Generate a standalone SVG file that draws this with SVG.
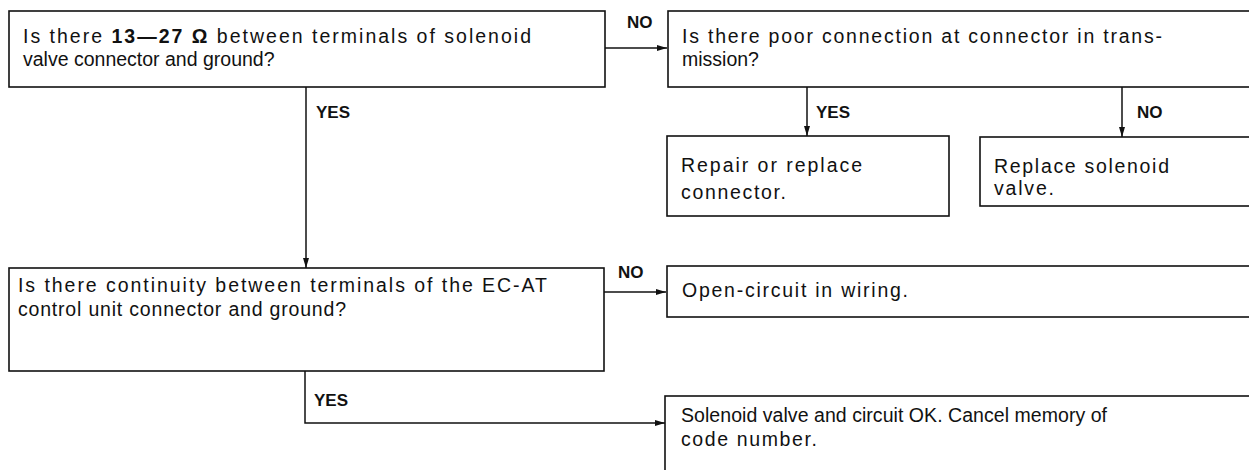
<svg xmlns="http://www.w3.org/2000/svg" width="1249" height="470" viewBox="0 0 1249 470">
<style>
.box{fill:#fff;stroke:#111;stroke-width:1.6}
.t{font-family:"Liberation Sans",Arial,sans-serif;font-size:19.5px;fill:#111}
.b{font-family:"Liberation Sans",Arial,sans-serif;font-size:17px;font-weight:bold;fill:#111}
.c{fill:none;stroke:#111;stroke-width:1.5}
</style>
<defs>
<marker id="ah" viewBox="0 0 10 6" refX="10" refY="3" markerWidth="10" markerHeight="6" markerUnits="userSpaceOnUse" orient="auto">
<path d="M0,0 L10,3 L0,6 z" fill="#111"/>
</marker>
</defs>
<rect width="1249" height="470" fill="#fff"/>
<g id="connectors">
<path class="c" d="M605,48 H667" marker-end="url(#ah)"/>
<path class="c" d="M807,87 V136" marker-end="url(#ah)"/>
<path class="c" d="M1122,87 V137" marker-end="url(#ah)"/>
<path class="c" d="M306,87 V268" marker-end="url(#ah)"/>
<path class="c" d="M604,292 H666" marker-end="url(#ah)"/>
<path class="c" d="M305,371 V423 H665" marker-end="url(#ah)"/>
<text class="b" x="627" y="28">NO</text>
<text class="b" x="816" y="118">YES</text>
<text class="b" x="1137" y="118">NO</text>
<text class="b" x="316" y="118">YES</text>
<text class="b" x="618" y="278">NO</text>
<text class="b" x="314" y="406">YES</text>
</g>
<g id="q1">
<rect class="box" x="9" y="11" width="596" height="76"/>
<text class="t" x="23" y="43" textLength="508" lengthAdjust="spacing">Is there <tspan font-weight="bold">13—27 Ω</tspan> between terminals of solenoid</text>
<text class="t" x="23" y="66">valve connector and ground?</text>
</g>
<g id="q2">
<rect class="box" x="668" y="11" width="600" height="76"/>
<text class="t" x="682" y="43" textLength="480" lengthAdjust="spacing">Is there poor connection at connector in trans-</text>
<text class="t" x="682" y="66">mission?</text>
</g>
<g id="repair">
<rect class="box" x="667" y="136" width="282" height="80"/>
<text class="t" x="681" y="172" textLength="181" lengthAdjust="spacing">Repair or replace</text>
<text class="t" x="681" y="199" textLength="105" lengthAdjust="spacing">connector.</text>
</g>
<g id="replace">
<rect class="box" x="980" y="137" width="290" height="69"/>
<text class="t" x="994" y="173" textLength="175" lengthAdjust="spacing">Replace solenoid</text>
<text class="t" x="994" y="195" textLength="60" lengthAdjust="spacing">valve.</text>
</g>
<g id="q3">
<rect class="box" x="9" y="268" width="595" height="103"/>
<text class="t" x="18" y="292" textLength="529" lengthAdjust="spacing">Is there continuity between terminals of the EC-AT</text>
<text class="t" x="18" y="316" textLength="328" lengthAdjust="spacing">control unit connector and ground?</text>
</g>
<g id="open">
<rect class="box" x="667" y="266" width="600" height="51"/>
<text class="t" x="682" y="297" textLength="226" lengthAdjust="spacing">Open-circuit in wiring.</text>
</g>
<g id="ok">
<rect class="box" x="665" y="396" width="600" height="90"/>
<text class="t" x="681" y="422" textLength="426" lengthAdjust="spacing">Solenoid valve and circuit OK. Cancel memory of</text>
<text class="t" x="681" y="446" textLength="136" lengthAdjust="spacing">code number.</text>
</g>
</svg>
